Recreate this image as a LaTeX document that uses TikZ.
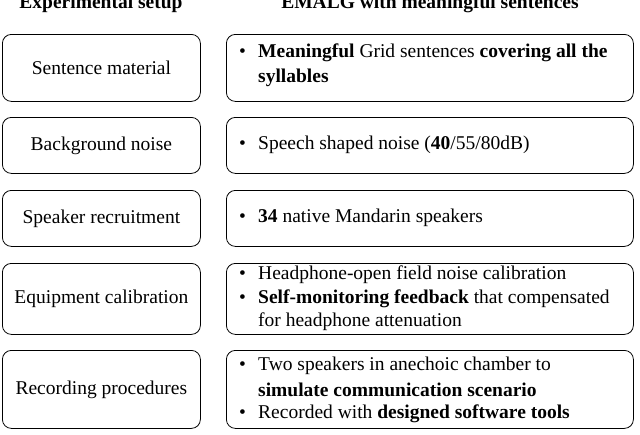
\documentclass[tikz,border=0pt]{standalone}
\usepackage{fontspec}
\setmainfont{Liberation Serif}
\begin{document}
\begin{tikzpicture}[x=1pt,y=-1pt,
  box/.style={draw=black,line width=0.8pt,rounded corners=9pt,anchor=north west,inner sep=0pt},
  lbl/.style={font=\fontsize{19.5}{22}\selectfont},
  ln/.style={font=\fontsize{19.5}{22}\selectfont,anchor=west,inner sep=0pt},
  hd/.style={font=\fontsize{19.5}{22}\selectfont\bfseries}]
\useasboundingbox (0,0) rectangle (640,434);
\node[hd] (h1) at (101,4) {Experimental setup};
\node[hd] (h2) at (430,4) {EMALG with meaningful sentences};
% left boxes
\node[box,minimum width=198pt,minimum height=67pt] (l1) at (2,34) {};
\node[box,minimum width=198pt,minimum height=56pt] (l2) at (2,117) {};
\node[box,minimum width=198pt,minimum height=56pt] (l3) at (2,190) {};
\node[box,minimum width=198pt,minimum height=71pt] (l4) at (2,263) {};
\node[box,minimum width=198pt,minimum height=78pt] (l5) at (2,350) {};
\node[lbl] at (l1) {Sentence material};
\node[lbl] at (l2) {Background noise};
\node[lbl] at (l3) {Speaker recruitment};
\node[lbl] at (l4) {Equipment calibration};
\node[lbl] at (l5) {Recording procedures};
% right boxes
\node[box,minimum width=407pt,minimum height=67pt] (r1) at (226,34) {};
\node[box,minimum width=407pt,minimum height=56pt] (r2) at (226,117) {};
\node[box,minimum width=407pt,minimum height=56pt] (r3) at (226,190) {};
\node[box,minimum width=407pt,minimum height=71pt] (r4) at (226,263) {};
\node[box,minimum width=407pt,minimum height=78pt] (r5) at (226,350) {};
% bullets and lines
\foreach \y in {53,145,218,275,299,366,414}{\node[ln] at (239,\y) {•};}
\node[ln] at (258,53) {\textbf{Meaningful} Grid sentences \textbf{covering all the}};
\node[ln] at (258,78) {\textbf{syllables}};
\node[ln] at (258,145) {Speech shaped noise (\textbf{40}/55/80dB)};
\node[ln] at (258,218) {\textbf{34} native Mandarin speakers};
\node[ln] at (258,275) {Headphone-open field noise calibration};
\node[ln] at (258,299) {\textbf{Self-monitoring feedback} that compensated};
\node[ln] at (258,322) {for headphone attenuation};
\node[ln] at (258,366) {Two speakers in anechoic chamber to};
\node[ln] at (258,390) {\textbf{simulate communication scenario}};
\node[ln] at (258,414) {Recorded with \textbf{designed software tools}};
\end{tikzpicture}
\end{document}
